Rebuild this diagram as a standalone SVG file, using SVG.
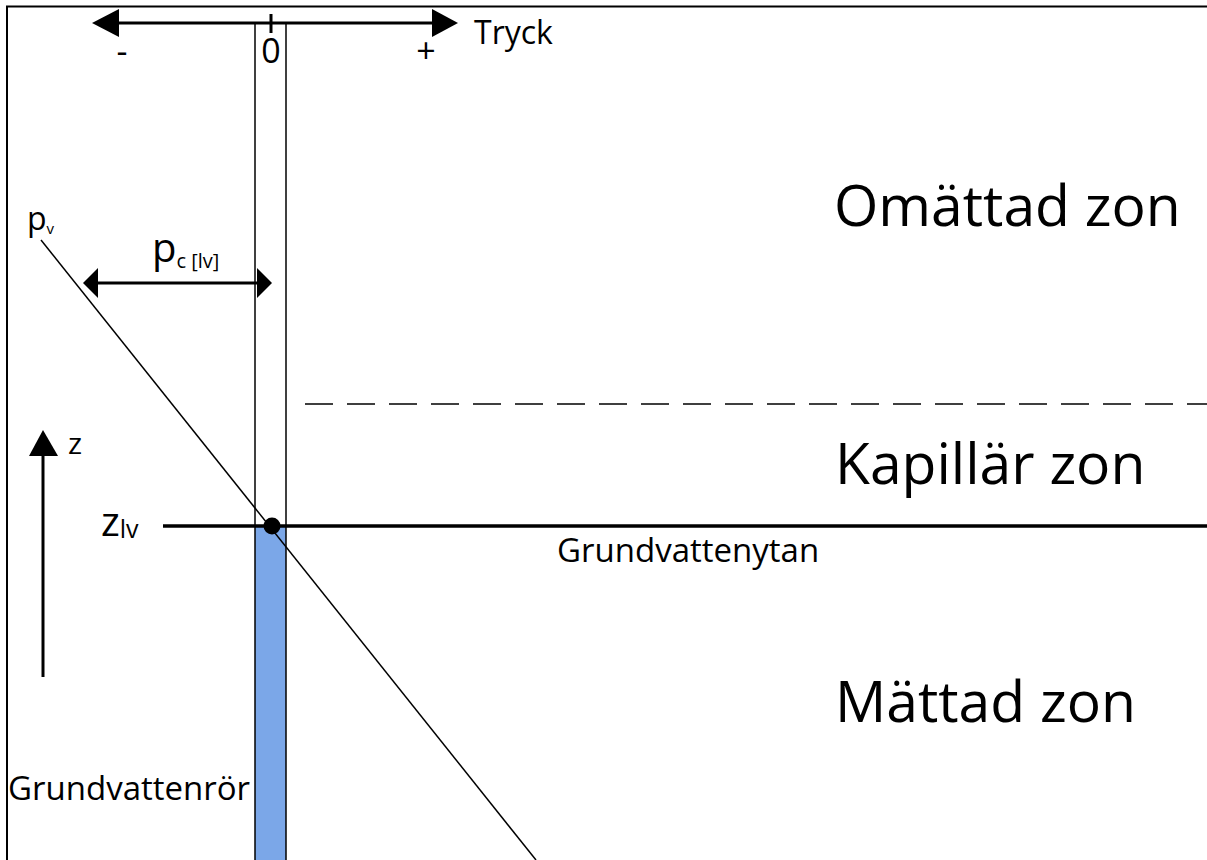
<svg xmlns="http://www.w3.org/2000/svg" width="1207" height="860" viewBox="0 0 1207 860">
  <style>
    .t { font-family: "Open Sans", "Noto Sans", sans-serif; fill: #000; }
    .zone { font-size: 57px; }
    .ln { stroke: #000; fill: none; }
    .thin { stroke-width: 1.5; }
    .bold { stroke-width: 3; }
    .head { fill: #000; stroke: none; }
  </style>
  <rect x="0" y="0" width="1207" height="860" fill="#fff"/>

  <!-- frame: top and left edges -->
  <g id="frame">
    <line class="ln" x1="6" y1="6.5" x2="1207" y2="6.5" stroke-width="2"/>
    <line class="ln" x1="7" y1="6" x2="7" y2="860" stroke-width="2"/>
  </g>

  <!-- observation pipe with water column -->
  <g id="pipe">
    <rect x="255" y="526" width="31" height="334" fill="#7ba7e8"/>
    <line class="ln thin" x1="255" y1="23" x2="255" y2="860"/>
    <line class="ln thin" x1="286" y1="23" x2="286" y2="860"/>
  </g>

  <g id="connectors">
    <!-- pressure axis -->
    <line class="ln bold" x1="110" y1="23" x2="438" y2="23"/>
    <polygon class="head" points="92,23 119,9 119,37"/>
    <polygon class="head" points="458,23 432,9 432,37"/>
    <line class="ln bold" x1="271" y1="14" x2="271" y2="33"/>

    <!-- hydrostatic pressure line -->
    <line class="ln thin" x1="41" y1="240" x2="536" y2="860"/>

    <!-- capillary pressure span -->
    <line class="ln bold" x1="92" y1="283" x2="262" y2="283"/>
    <polygon class="head" points="83,283 98,268 98,298"/>
    <polygon class="head" points="272,283 257,268 257,298"/>

    <!-- elevation axis -->
    <line class="ln bold" x1="43" y1="452" x2="43" y2="677"/>
    <polygon class="head" points="43,430 29,456 58,456"/>

    <!-- top of capillary zone -->
    <line class="ln thin" x1="305" y1="404" x2="1207" y2="404" stroke-dasharray="28 14"/>

    <!-- groundwater table -->
    <line class="ln" x1="163" y1="526" x2="1207" y2="526" stroke-width="3.5"/>
    <circle cx="272" cy="526" r="8.5" fill="#000"/>
  </g>

  <g id="axis-labels">
    <text class="t" x="474" y="44" font-size="32">Tryck</text>
    <text class="t" x="122" y="63" font-size="34" text-anchor="middle">-</text>
    <text class="t" x="271" y="63" font-size="34" text-anchor="middle">0</text>
    <text class="t" x="426" y="63" font-size="34" text-anchor="middle">+</text>
  </g>

  <g id="symbols">
    <text class="t" x="27" y="230" font-size="32">p<tspan font-size="15" dy="4">v</tspan></text>
    <text class="t" x="152" y="262" font-size="40">p<tspan font-size="20" dy="6">c [lv]</tspan></text>
    <text class="t" x="68" y="454" font-size="30">z</text>
    <text class="t" x="101" y="536" font-size="40">z<tspan font-size="25" dy="2">lv</tspan></text>
  </g>

  <g id="zone-unsaturated">
    <text class="t zone" x="834" y="226">Omättad zon</text>
  </g>
  <g id="zone-capillary">
    <text class="t zone" x="835" y="484">Kapillär zon</text>
  </g>
  <g id="zone-saturated">
    <text class="t zone" x="835" y="722">Mättad zon</text>
  </g>

  <g id="water-table-label">
    <text class="t" x="557" y="562" font-size="33">Grundvattenytan</text>
  </g>
  <g id="pipe-label">
    <text class="t" x="8" y="800" font-size="33">Grundvattenrör</text>
  </g>
</svg>
